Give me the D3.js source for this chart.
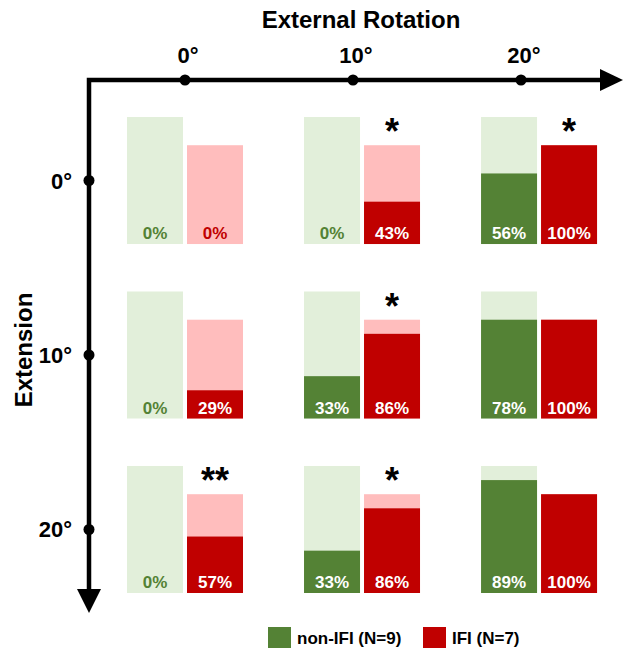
<!DOCTYPE html>
<html><head><meta charset="utf-8">
<script src="https://cdn.jsdelivr.net/npm/d3@7"></script>
<style>body{margin:0;background:#fff}svg{display:block}text{font-family:"Liberation Sans",Arial,Helvetica,sans-serif;font-weight:bold}</style>
</head><body>
<svg id="c" width="625" height="649"></svg>
<script>
const rotations = ["0°","10°","20°"];      // columns (External Rotation)
const extensions = ["0°","10°","20°"];     // rows (Extension)
const nNonIFI = 9, nIFI = 7;
// counts of positive cases per cell [row][col]
const nonIFICounts = [[0,0,5],[0,3,7],[0,3,8]];
const ifiCounts    = [[0,3,7],[2,6,7],[4,6,7]];
const stars = [["","*","*"],["","*",""],["**","*",""]];
const legendLabels = ["non-IFI (N=9)","IFI (N=7)"];

const C = {g:"#548235", gl:"#E2EFDA", r:"#C00000", rl:"#FFBDBD"};
const svg = d3.select("#c");

const col = d3.scaleBand().domain(rotations).range([127,597]).paddingInner(0.345);
const row = d3.scaleBand().domain(extensions).range([117,593]).paddingInner(0.272);
const xTick = d3.scalePoint().domain(rotations).range([185,521]);
const barW = 56, barGap = 4;
const h = d3.scaleLinear().domain([0,nNonIFI]).range([0,row.bandwidth()]);

// axes
svg.append("path").attr("d",`M89,601 L89,80 L600,80`).attr("fill","none").attr("stroke","#000").attr("stroke-width",4.5);
svg.append("path").attr("d","M600,69 L623,80 L600,91 Z").attr("fill","#000");
svg.append("path").attr("d","M77,589 L89,613 L101,589 Z").attr("fill","#000");
svg.selectAll(".xd").data(rotations).join("circle").attr("cx",d=>xTick(d)).attr("cy",80).attr("r",5.5).attr("fill","#000");
svg.selectAll(".yd").data(extensions).join("circle").attr("cx",89).attr("cy",d=>row(d)+row.bandwidth()/2).attr("r",5.5).attr("fill","#000");
svg.selectAll(".xl").data(rotations).join("text").attr("x",d=>xTick(d)+3).attr("y",63).attr("text-anchor","middle").attr("font-size",22).text(d=>d);
svg.selectAll(".yl").data(extensions).join("text").attr("x",72).attr("y",d=>row(d)+row.bandwidth()/2+8).attr("text-anchor","end").attr("font-size",22).text(d=>d);
svg.append("text").attr("x",361).attr("y",28).attr("text-anchor","middle").attr("font-size",24).text("External Rotation");
svg.append("text").attr("transform","translate(32,350) rotate(-90)").attr("text-anchor","middle").attr("font-size",24).text("Extension");

// cells
const cells = [];
extensions.forEach((e,i)=>rotations.forEach((r,j)=>cells.push({e,r,i,j})));
const g = svg.selectAll(".cell").data(cells).join("g")
  .attr("transform",d=>`translate(${col(d.r)},${row(d.e)+row.bandwidth()})`);
// backgrounds
g.append("rect").attr("x",0).attr("width",barW).attr("y",-h(nNonIFI)).attr("height",h(nNonIFI)).attr("fill",C.gl);
g.append("rect").attr("x",barW+barGap).attr("width",barW).attr("y",-h(nIFI)).attr("height",h(nIFI)).attr("fill",C.rl);
g.append("rect").attr("x",0).attr("width",barW).attr("y",d=>-h(nonIFICounts[d.i][d.j])).attr("height",d=>h(nonIFICounts[d.i][d.j])).attr("fill",C.g);
g.append("rect").attr("x",barW+barGap).attr("width",barW).attr("y",d=>-h(ifiCounts[d.i][d.j])).attr("height",d=>h(ifiCounts[d.i][d.j])).attr("fill",C.r);
g.append("text").attr("x",barW/2).attr("y",-5).attr("text-anchor","middle").attr("font-size",17)
  .attr("fill",d=>nonIFICounts[d.i][d.j]?"#fff":C.g).text(d=>Math.round(nonIFICounts[d.i][d.j]/nNonIFI*100)+"%");
g.append("text").attr("x",barW+barGap+barW/2).attr("y",-5).attr("text-anchor","middle").attr("font-size",17)
  .attr("fill",d=>ifiCounts[d.i][d.j]?"#fff":C.r).text(d=>Math.round(ifiCounts[d.i][d.j]/nIFI*100)+"%");
g.append("text").attr("x",barW+barGap+barW/2).attr("y",-h(nIFI)-1).attr("text-anchor","middle").attr("font-size",36)
  .text(d=>stars[d.i][d.j]);

// legend
const leg = svg.selectAll(".leg").data(legendLabels).join("g").attr("transform",(d,i)=>`translate(${[268,423][i]},627)`);
leg.append("rect").attr("width",23).attr("height",21).attr("fill",(d,i)=>[C.g,C.r][i]);
leg.append("text").attr("x",29).attr("y",17).attr("font-size",17).text(d=>d);
</script>
</body></html>
